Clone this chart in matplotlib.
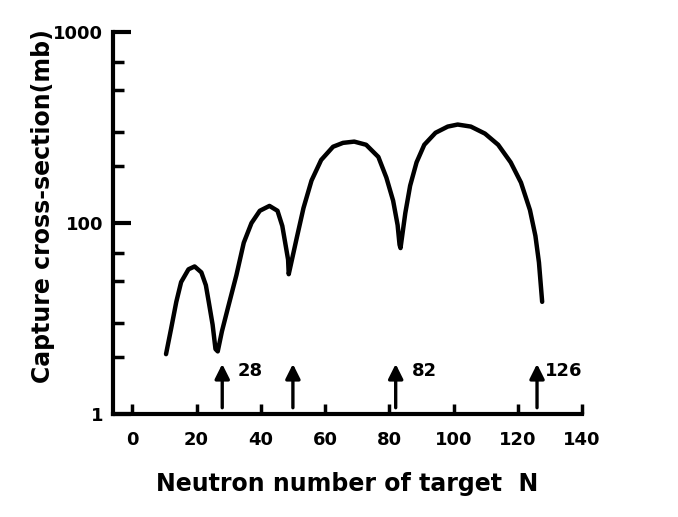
import numpy as np
import matplotlib.pyplot as plt

# neutron number N and capture cross-section (mb)
N = [10.5, 12.1, 13.7, 15.2, 17.5, 19.4, 21.5, 22.9, 23.8, 25.0, 25.9, 26.6,
     27.9, 29.7, 32.4, 34.7, 37.1, 39.7, 42.7, 45.2, 46.7, 47.6, 48.5, 48.7,
     51.2, 53.3, 55.8, 58.8, 62.5, 65.6, 69.1, 72.8, 76.6, 79.1, 81.2, 82.6, 83.2, 83.5,
     85.0, 86.5, 88.5, 90.9, 94.4, 98.2, 101.3, 105.4, 109.8, 113.9, 117.8,
     121.0, 123.8, 125.5, 126.6, 127.6]
sigma = [20.6, 28.1, 38.7, 49.1, 57.3, 59.3, 55.2, 47.3, 38.7, 29.4, 21.9, 21.3,
         27.1, 35.6, 53.3, 78.9, 100, 116, 123, 116, 96.6, 78.9, 64.4, 54,
         83.7, 120, 167, 214, 251, 263, 267, 257, 222, 173, 131, 97.6, 77.1, 74,
         113, 157, 208, 257, 297, 320, 328, 320, 294, 257, 208,
         163, 117, 85.7, 62.2, 38.7]

# magic numbers marked with arrows
magic = [28, 50, 82, 126]
magic_labels = ['28', '', '82', '126']

xticks = [0, 20, 40, 60, 80, 100, 120, 140]
yticks = [10, 100, 1000]
yticklabels = ['1', '100', '1000']
yminor = [20, 30, 50, 70, 200, 300, 500, 700]

fig = plt.figure(figsize=(6.78, 5.17), dpi=100)
ax = fig.add_axes([0.1667, 0.199, 0.6917, 0.739])

ax.plot(N, sigma, color='black', lw=3.2, solid_capstyle='round', solid_joinstyle='round')

# arrows at the magic numbers, label offset to the right of each head
label_dx = [4.7, 0, 5.0, 2.5]
for n, lab, dx in zip(magic, magic_labels, label_dx):
    ax.annotate('', xy=(n, 18.3), xytext=(n, 10.8),
                arrowprops=dict(arrowstyle='-|>', color='black', lw=2.4,
                                mutation_scale=22, shrinkA=0, shrinkB=0))
    if lab:
        ax.text(n + dx, 16.9, lab, fontsize=13, fontweight='bold',
                ha='left', va='center')

ax.set_yscale('log')
ax.set_xlim(-6, 140)
ax.set_ylim(10, 1000)

ax.set_xticks(xticks)
ax.set_xticklabels([str(t) for t in xticks], fontsize=13, fontweight='bold')
ax.set_yticks(yticks)
ax.set_yticklabels(yticklabels, fontsize=13, fontweight='bold')
ax.set_yticks(yminor, minor=True)
ax.set_yticklabels([], minor=True)

ax.tick_params(axis='y', which='major', direction='in', length=13, width=3, pad=7)
ax.tick_params(axis='y', which='minor', direction='in', length=8, width=2.5)
ax.tick_params(axis='x', which='major', direction='in', length=7, width=2.5, pad=12)

for s in ['top', 'right']:
    ax.spines[s].set_visible(False)
for s in ['left', 'bottom']:
    ax.spines[s].set_linewidth(3)

ax.set_xlabel('Neutron number of target  N', fontsize=17, fontweight='bold', labelpad=17)
ax.set_ylabel('Capture cross-section(mb)', fontsize=17, fontweight='bold')
ax.yaxis.set_label_coords(-0.123, 0.545)

fig.savefig('out.png', dpi=100)
